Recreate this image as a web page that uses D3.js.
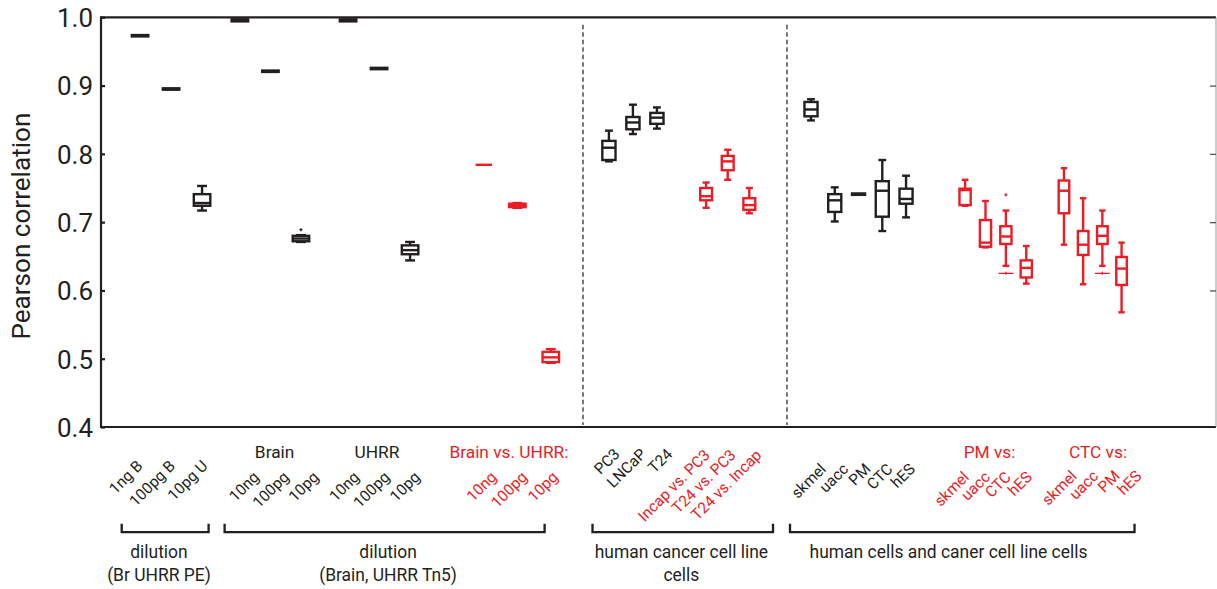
<!DOCTYPE html>
<html>
<head>
<meta charset="utf-8">
<script src="https://cdn.jsdelivr.net/npm/d3@7"></script>
<style>
  body { margin: 0; background: #fff; }
  svg { display: block; }
</style>
</head>
<body>
<svg id="chart" width="1217" height="589"></svg>
<script>
// ---------------- data ----------------
const categories = [
  "1ng B", "100pg B", "10pg U",
  "10ng", "100pg", "10pg",
  "10ng", "100pg", "10pg",
  "10ng", "100pg", "10pg",
  "PC3", "LNCaP", "T24",
  "Incap vs. PC3", "T24  vs. PC3", "T24  vs. Incap",
  "skmel", "uacc", "PM", "CTC", "hES",
  "skmel", "uacc", "CTC", "hES",
  "skmel", "uacc", "PM", "hES"
];
// 1 = correlation between two different samples (drawn in red)
const betweenSamples = [0,0,0, 0,0,0, 0,0,0, 1,1,1, 0,0,0, 1,1,1, 0,0,0,0,0, 1,1,1,1, 1,1,1,1];

const whiskerLow  = [0.972,0.894,0.717, 0.994,0.920,0.671, 0.994,0.924,0.644, 0.784,0.721,0.494,
                     0.789,0.829,0.837, 0.721,0.762,0.713,
                     0.849,0.701,0.740,0.687,0.707, 0.724,0.663,0.636,0.610, 0.667,0.609,0.636,0.568];
const quartile1   = [0.972,0.894,0.724, 0.994,0.920,0.672, 0.994,0.924,0.653, 0.784,0.722,0.495,
                     0.791,0.836,0.844, 0.732,0.776,0.718,
                     0.855,0.715,0.740,0.708,0.727, 0.725,0.664,0.668,0.619, 0.713,0.652,0.668,0.608];
const medians     = [0.973,0.895,0.728, 0.996,0.921,0.676, 0.996,0.925,0.659, 0.784,0.725,0.502,
                     0.809,0.846,0.853, 0.738,0.789,0.725,
                     0.865,0.732,0.741,0.746,0.734, 0.747,0.670,0.679,0.633, 0.746,0.667,0.680,0.632];
const quartile3   = [0.974,0.896,0.741, 0.997,0.922,0.680, 0.997,0.926,0.666, 0.784,0.727,0.510,
                     0.819,0.854,0.860, 0.750,0.797,0.735,
                     0.876,0.741,0.742,0.760,0.749, 0.749,0.703,0.694,0.644, 0.761,0.687,0.694,0.649];
const whiskerHigh = [0.974,0.896,0.753, 0.997,0.922,0.681, 0.997,0.926,0.671, 0.784,0.728,0.514,
                     0.834,0.872,0.868, 0.758,0.806,0.750,
                     0.880,0.751,0.742,0.791,0.768, 0.762,0.731,0.717,0.665, 0.779,0.735,0.717,0.670];
// outliers: [category index, value]
const upperOutliers = [[5, 0.689], [25, 0.740]];
const lowerOutliers = [[25, 0.625], [29, 0.625]];

const yTicks = [0.4, 0.5, 0.6, 0.7, 0.8, 0.9, 1.0];

const groupSizes   = [3, 3, 3, 3, 3, 3, 5, 4, 4];
const groupHeaders = ["", "Brain", "UHRR", "Brain vs. UHRR:", "", "", "", "PM vs:", "CTC vs:"];
const bracketTitles = [
  ["dilution", "(Br UHRR PE)"],
  ["dilution", "(Brain, UHRR Tn5)"],
  ["human cancer cell line", "cells"],
  ["human cells and caner cell line cells"]
];
const yTitle = "Pearson correlation";

// ---------------- layout ----------------
const plotTop = 17.3, plotBottom = 427;
const panelEdges = [101, 583, 787, 1216];
const panelStep = [31, 24, 24];            // px per slot in each panel
const BLACK = "#231f20", RED = "#ed1c24";
const FONT = "Roboto, Lato, sans-serif";

// per group: panel, box slot start/step, label slot start/step, label baseline, header slot
const groupLayout = [
  { panel: 0, box: [1.26, 1.0],   label: [1.37, 1.05],  labelY: 467 },
  { panel: 0, box: [4.48, 0.985], label: [5.13, 0.96],  labelY: 478, header: 5.6 },
  { panel: 0, box: [7.97, 1.0],   label: [8.36, 0.98],  labelY: 478, header: 8.9 },
  { panel: 0, box: [12.35, 1.08], label: [12.79, 0.99], labelY: 478, header: 13.16 },
  { panel: 1, box: [1.08, 1.0],   label: [1.57, 1.1],   labelY: 455 },
  { panel: 1, box: [5.13, 0.9],   label: [5.33, 1.075], labelY: 456 },
  { panel: 2, box: [1.0, 0.99],   label: [1.667, 0.927],labelY: 470 },
  { panel: 2, box: [7.42, 0.85],  label: [7.625, 0.875],labelY: 478, header: 8.44 },
  { panel: 2, box: [11.54, 0.8],  label: [12.11, 0.9],  labelY: 477, header: 12.96 }
];

const bracketLayout = [
  { panel: 0, from: 0.668, to: 3.471,  textAt: 1.87 },
  { panel: 0, from: 3.987, to: 14.31,  textAt: 9.26 },
  { panel: 1, from: 0.396, to: 7.917,  textAt: 4.10 },
  { panel: 2, from: 0.125, to: 14.48,  textAt: 6.73 }
];

// ---------------- scales ----------------
const y = d3.scaleLinear().domain([0.4, 1.0]).range([plotBottom, plotTop]);
const xPanel = panelStep.map((s, i) =>
  d3.scaleLinear()
    .domain([0, (panelEdges[i + 1] - panelEdges[i]) / s])
    .range([panelEdges[i], panelEdges[i + 1]]));

// assemble one record per category
const records = [];
let idx = 0;
groupSizes.forEach((n, g) => {
  const L = groupLayout[g];
  const sx = xPanel[L.panel];
  const stepPx = sx(L.box[1]) - sx(0);
  for (let k = 0; k < n; k++, idx++) {
    records.push({
      i: idx, group: g,
      name: categories[idx],
      color: betweenSamples[idx] ? RED : BLACK,
      x: sx(L.box[0] + k * L.box[1]),
      labelX: sx(L.label[0] + k * L.label[1]),
      labelY: L.labelY,
      w: Math.min(0.55 * stepPx, 16.5),
      lo: whiskerLow[idx], q1: quartile1[idx], med: medians[idx],
      q3: quartile3[idx], hi: whiskerHigh[idx]
    });
  }
});

const svg = d3.select("#chart");

function fontFor(sample, target) {
  const t = svg.append("text").attr("font-size", 100).style("font-family", FONT).text(sample);
  const w = t.node().getComputedTextLength();
  t.remove();
  return 100 * target / w;
}
const fsTick = fontFor("1.0", 36);
const fsTitle = fontFor(yTitle, 227);
const fsLabel = fontFor("Incap vs. PC3", 94);
const fsHeader = fontFor("Brain vs. UHRR:", 119);
const fsBracket = fontFor("human cells and caner cell line cells", 278);

// ---------------- frame & axes ----------------
const frame = svg.append("g");
frame.append("line").attr("x1", panelEdges[0]).attr("x2", panelEdges[3])
  .attr("y1", plotTop).attr("y2", plotTop).attr("stroke", BLACK).attr("stroke-width", 2.2);
frame.append("line").attr("x1", panelEdges[0]).attr("x2", panelEdges[3])
  .attr("y1", plotBottom).attr("y2", plotBottom).attr("stroke", BLACK).attr("stroke-width", 2.2);
frame.append("line").attr("x1", panelEdges[0]).attr("x2", panelEdges[0])
  .attr("y1", plotTop - 1.1).attr("y2", plotBottom + 1.1).attr("stroke", BLACK).attr("stroke-width", 2.2);
frame.append("line").attr("x1", panelEdges[3]).attr("x2", panelEdges[3])
  .attr("y1", plotTop).attr("y2", plotBottom).attr("stroke", "#9a9a9a").attr("stroke-width", 1);

const leftAxis = svg.append("g")
  .attr("transform", `translate(${panelEdges[0]},0)`)
  .call(d3.axisLeft(y).tickValues(yTicks).tickFormat(d3.format(".1f"))
    .tickSizeInner(-4).tickSizeOuter(0).tickPadding(8));
leftAxis.select(".domain").remove();
leftAxis.selectAll(".tick line").attr("stroke", BLACK).attr("stroke-width", 2.2);
leftAxis.selectAll(".tick text")
  .style("font-family", FONT).attr("font-size", fsTick).attr("fill", BLACK)
  .attr("dy", "0.36em");

const rightAxis = svg.append("g")
  .attr("transform", `translate(${panelEdges[3]},0)`)
  .call(d3.axisRight(y).tickValues(yTicks.slice(2, 6)).tickFormat("")
    .tickSizeInner(-6).tickSizeOuter(0));
rightAxis.select(".domain").remove();
rightAxis.selectAll(".tick line").attr("stroke", "#555").attr("stroke-width", 1.3);

svg.append("text")
  .attr("transform", `translate(30,${(plotTop + plotBottom) / 2 + 4}) rotate(-90)`)
  .attr("text-anchor", "middle")
  .style("font-family", FONT).attr("font-size", fsTitle).attr("fill", BLACK)
  .text(yTitle);

// panel separators
svg.append("g").selectAll("line")
  .data(panelEdges.slice(1, 3))
  .join("line")
  .attr("x1", d => d).attr("x2", d => d)
  .attr("y1", y(0.989)).attr("y2", y(0.403))
  .attr("stroke", BLACK).attr("stroke-width", 1.2).attr("stroke-dasharray", "4.5,3");

// ---------------- box plots ----------------
const boxes = svg.append("g").selectAll("g").data(records).join("g")
  .attr("stroke", d => d.color).attr("fill", "none")
  .attr("stroke-width", 2.4);

boxes.filter(d => d.hi > d.q3).append("line")
  .attr("x1", d => d.x).attr("x2", d => d.x)
  .attr("y1", d => y(d.hi)).attr("y2", d => y(d.q3));
boxes.filter(d => d.lo < d.q1).append("line")
  .attr("x1", d => d.x).attr("x2", d => d.x)
  .attr("y1", d => y(d.q1)).attr("y2", d => y(d.lo));
boxes.filter(d => d.hi > d.q3).append("line")
  .attr("x1", d => d.x - d.w * 0.3).attr("x2", d => d.x + d.w * 0.3)
  .attr("y1", d => y(d.hi)).attr("y2", d => y(d.hi));
boxes.filter(d => d.lo < d.q1).append("line")
  .attr("x1", d => d.x - d.w * 0.3).attr("x2", d => d.x + d.w * 0.3)
  .attr("y1", d => y(d.lo)).attr("y2", d => y(d.lo));
boxes.append("rect")
  .attr("x", d => d.x - d.w / 2).attr("width", d => d.w)
  .attr("y", d => y(d.q3)).attr("height", d => y(d.q1) - y(d.q3))
  .attr("fill", "#fff");
boxes.append("line")
  .attr("x1", d => d.x - d.w / 2).attr("x2", d => d.x + d.w / 2)
  .attr("y1", d => y(d.med)).attr("y2", d => y(d.med));

// outliers
const recordOf = i => records[i];
svg.append("g").selectAll("path").data(upperOutliers).join("path")
  .attr("d", ([i, v]) => {
    const r = recordOf(i), cy = y(v);
    return `M${r.x - 1.5},${cy}H${r.x + 1.5}M${r.x},${cy - 1.5}V${cy + 1.5}`;
  })
  .attr("stroke", ([i]) => recordOf(i).color).attr("stroke-width", 1.4).attr("fill", "none");
svg.append("g").selectAll("path").data(lowerOutliers).join("path")
  .attr("d", ([i, v]) => {
    const r = recordOf(i), cy = y(v);
    return `M${r.x - 7.5},${cy}H${r.x + 7.5}M${r.x},${cy - 1.5}V${cy + 1.5}`;
  })
  .attr("stroke", ([i]) => recordOf(i).color).attr("stroke-width", 1.3).attr("fill", "none");

// ---------------- category labels ----------------
svg.append("g").selectAll("text").data(records).join("text")
  .attr("x", d => d.labelX).attr("y", d => d.labelY)
  .attr("transform", d => `rotate(-45,${d.labelX},${d.labelY})`)
  .attr("text-anchor", "end")
  .style("font-family", FONT).attr("font-size", fsLabel)
  .attr("fill", d => d.color)
  .text(d => d.name);

// group headers
svg.append("g").selectAll("text")
  .data(groupHeaders.map((h, g) => ({ h, g })).filter(d => d.h))
  .join("text")
  .attr("x", d => xPanel[groupLayout[d.g].panel](groupLayout[d.g].header))
  .attr("y", 458)
  .attr("text-anchor", "middle")
  .style("font-family", FONT).attr("font-size", fsHeader)
  .attr("fill", d => {
    const first = d3.sum(groupSizes.slice(0, d.g));
    return betweenSamples[first] ? RED : BLACK;
  })
  .text(d => d.h);

// ---------------- brackets ----------------
const br = svg.append("g").selectAll("g").data(bracketLayout).join("g");
br.append("path")
  .attr("d", d => {
    const sx = xPanel[d.panel], a = sx(d.from), b = sx(d.to);
    return `M${a},523.8V532.2H${b}V523.8`;
  })
  .attr("fill", "none").attr("stroke", BLACK).attr("stroke-width", 2.3);
br.each(function (d, k) {
  const sx = xPanel[d.panel];
  d3.select(this).selectAll("text").data(bracketTitles[k]).join("text")
    .attr("x", sx(d.textAt)).attr("y", (t, j) => 558 + j * 22.5)
    .attr("text-anchor", "middle")
    .style("font-family", FONT).attr("font-size", fsBracket).attr("fill", BLACK)
    .text(t => t);
});
</script>
</body>
</html>
